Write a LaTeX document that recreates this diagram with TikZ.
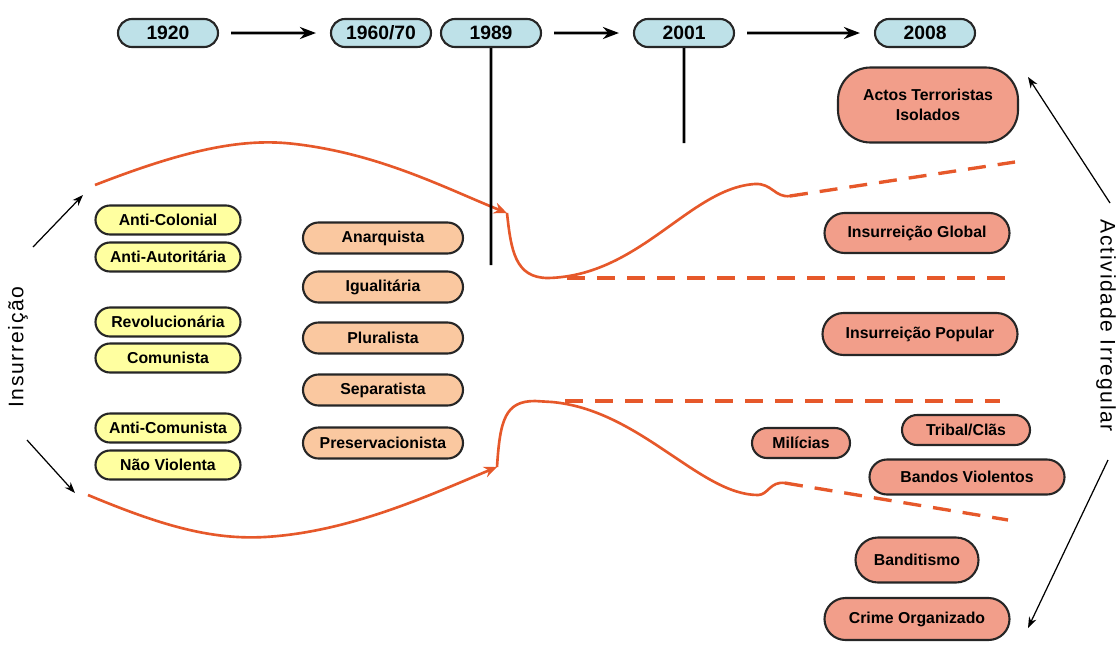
\documentclass[tikz,border=0pt]{standalone}
\usepackage{fontspec}
\setmainfont{Liberation Sans}
\newfontfamily\sidefont[LetterSpace=8]{Liberation Sans}
\usetikzlibrary{shapes.misc,arrows.meta}
\definecolor{yearblue}{RGB}{190,225,232}
\definecolor{ideoyellow}{RGB}{255,255,160}
\definecolor{causepeach}{RGB}{250,200,160}
\definecolor{irregsalmon}{RGB}{242,158,138}
\definecolor{curveorange}{RGB}{230,88,42}
\tikzstyle{year}=[rounded rectangle,draw=black!85,fill=yearblue,line width=1.2pt,minimum width=20mm,minimum height=5.6mm,inner sep=0pt,font=\bfseries\fontsize{11}{12}\selectfont]
\tikzstyle{ideo}=[rounded rectangle,draw=black!85,fill=ideoyellow,line width=1.2pt,minimum width=29mm,minimum height=5.8mm,inner sep=0pt,font=\bfseries\fontsize{9}{11}\selectfont]
\tikzstyle{cause}=[rounded rectangle,draw=black!85,fill=causepeach,line width=1.2pt,minimum width=32mm,minimum height=6.2mm,inner sep=0pt,font=\bfseries\fontsize{9}{11}\selectfont]
\tikzstyle{irreg}=[rounded rectangle,draw=black!85,fill=irregsalmon,line width=1.2pt,minimum height=6mm,inner sep=0pt,align=center,font=\bfseries\fontsize{9}{11}\selectfont]
\tikzstyle{side}=[font=\sidefont\fontsize{12}{14}\selectfont]
\tikzstyle{trend}=[curveorange,line width=1.5pt]
\tikzstyle{trenddash}=[curveorange,line width=1.9pt,dash pattern=on 3.6mm off 2.4mm]
\tikzstyle{timearrow}=[-{Stealth[length=3.2mm,width=2.4mm]},line width=1.6pt,shorten <=2.4mm,shorten >=2.8mm]
\tikzstyle{drift}=[-{Stealth[length=2.2mm,width=1.6mm]},line width=0.7pt]
\tikzstyle{tip}=[-{Stealth[length=2.6mm,width=2.2mm]}]

\begin{document}
\begin{tikzpicture}[x=0.2mm,y=-0.2mm]
		\useasboundingbox (0,0) rectangle (1120,644);
		
		\draw [trend,tip] (95,185) .. controls (190,148) and (245,138) .. (295,144) .. controls (380,154) and (445,188) .. (507,213);
		\draw [trend] (507,213) .. controls (511,250) and (515,278) .. (548,278) .. controls (640,276) and (690,188) .. (755,184) .. controls (772,183) and (775,198) .. (790,196);
		\draw [trenddash] (567,278) -- (1005,278);
		\draw [trenddash] (790,196) -- (1015,162);
		
		\draw [trend,tip] (88,495) .. controls (160,525) and (210,540) .. (265,537) .. controls (350,532) and (430,495) .. (497,467);
		\draw [trend] (497,467) .. controls (500,420) and (505,401) .. (535,401) -- (552,402) .. controls (640,410) and (700,495) .. (758,495) .. controls (768,495) and (770,481) .. (785,483);
		\draw [trenddash] (565,401) -- (1000,401);
		\draw [trenddash] (785,483) -- (1008,520);
		
		\node (t1) at (168,33) [year] {1920};
		\node (t2) at (381,33) [year] {1960/70};
		\node (t3) at (491,33) [year] {1989};
		\node (t4) at (684,33) [year] {2001};
		\node (t5) at (925,33) [year] {2008};
		
		\coordinate (e1) at (491,265);
		\coordinate (e2) at (684,143);
		
		\draw [timearrow] (t1)-- (t2);
		\draw [timearrow] (t3)-- (t4);
		\draw [timearrow] (t4)-- (t5);
		\draw [line width=1.6pt] (t3)-- (e1);
		\draw [line width=1.6pt] (t4)-- (e2);
		
		\node (a1) at (168,220) [ideo] {Anti-Colonial};
		\node (a2) at (168,257) [ideo] {Anti-Autoritária};
		\node (a3) at (168,322) [ideo] {Revolucionária};
		\node (a4) at (168,358) [ideo] {Comunista};
		\node (a5) at (168,428) [ideo] {Anti-Comunista};
		\node (a6) at (168,465) [ideo] {Não Violenta};
		
		\node (b1) at (383,238) [cause] {Anarquista};
		\node (b2) at (383,287) [cause] {Igualitária};
		\node (b3) at (383,338) [cause] {Pluralista};
		\node (b4) at (383,390) [cause] {Separatista};
		\node (b5) at (383,443) [cause] {Preservacionista};
		
		\node (c1) at (928,105) [irreg,rectangle,rounded corners=6.5mm,minimum width=36mm,minimum height=15mm] {Actos Terroristas\\Isolados};
		\node (c2) at (917,233) [irreg,minimum width=37mm,minimum height=8mm] {Insurreição Global};
		\node (c3) at (920,334) [irreg,minimum width=39mm,minimum height=8.4mm] {Insurreição Popular};
		\node (c4) at (801,443) [irreg,minimum width=19.6mm] {Milícias};
		\node (c5) at (966,430) [irreg,minimum width=25.6mm] {Tribal/Clãs};
		\node (c6) at (967,477) [irreg,minimum width=39mm,minimum height=7mm] {Bandos Violentos};
		\node (c7) at (917,560) [irreg,minimum width=24.6mm,minimum height=9mm] {Banditismo};
		\node (c8) at (917,619) [irreg,minimum width=37mm,minimum height=8.4mm] {Crime Organizado};
		
		\node (ins) at (18,347) [side,rotate=90] {Insurreição};
		\node (act) at (1106,326) [side,rotate=-90] {Actividade Irregular};
		
		\coordinate (l1) at (33,247);
		\coordinate (l2) at (83,195);
		\coordinate (l3) at (27,440);
		\coordinate (l4) at (75,493);
		\coordinate (r1) at (1110,203);
		\coordinate (r2) at (1028,77);
		\coordinate (r3) at (1108,460);
		\coordinate (r4) at (1028,628);
		
		\draw [drift] (l1)-- (l2);
		\draw [drift] (l3)-- (l4);
		\draw [drift] (r1)-- (r2);
		\draw [drift] (r3)-- (r4);
	\end{tikzpicture}
\end{document}
